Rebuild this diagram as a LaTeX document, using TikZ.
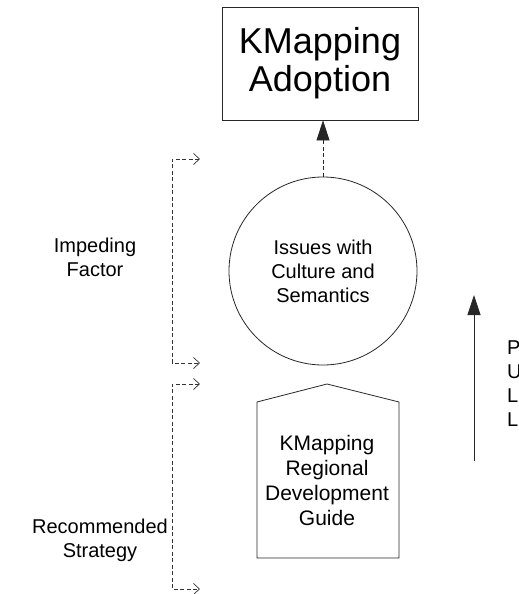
\documentclass[tikz,border=0pt]{standalone}
\usepackage{fontspec}
\setmainfont{Liberation Sans}
\usetikzlibrary{arrows.meta}
\begin{document}
\begin{tikzpicture}[x=1pt,y=-1pt,
  ln/.style={draw=black!85, line width=0.8pt},
  txt/.style={align=center, inner sep=0pt, font=\fontsize{20}{24}\selectfont},
  ptxt/.style={align=center, inner sep=0pt, font=\fontsize{21}{25}\selectfont},
  big/.style={align=center, inner sep=0pt, font=\fontsize{36}{38}\selectfont},
  brk/.style={draw=black!80, line width=0.7pt, dash pattern=on 4pt off 2.5pt,
    {Straight Barb[length=6pt,width=11pt]}-{Straight Barb[length=6pt,width=11pt]}},
  tri/.style={-{Triangle[length=20pt,width=13pt]}},
]
\useasboundingbox (0,0) rectangle (519,594);
% top box
\node[ln, big, minimum width=196pt, minimum height=113pt] (adopt) at (320,63.5) {KMapping\\Adoption};
% circle
\node[ln, circle, txt, minimum size=188pt] (issues) at (323,271) {Issues with\\Culture and\\Semantics};
\draw[ln, dash pattern=on 4pt off 2.5pt, tri] (issues.north) -- (issues.north |- adopt.south);
% pentagon
\coordinate (pl) at (257,402);
\coordinate (pt) at (327,384);
\coordinate (pr) at (399,402);
\coordinate (pbr) at (399,558);
\coordinate (pbl) at (257,558);
\draw[ln] (pl) -- (pt) -- (pr) -- (pbr) -- (pbl) -- cycle;
\node[ptxt] (guide) at (327,480) {KMapping\\Regional\\Development\\Guide};
% brackets
\coordinate (b1a) at (200,159);
\coordinate (b1b) at (200,363);
\coordinate (b2a) at (200,384);
\coordinate (b2b) at (200,589);
\draw[brk] (b1a) -- (172,159) -- (172,363) -- (b1b);
\draw[brk] (b2a) -- (172,384) -- (172,589) -- (b2b);
\node[txt] (imp) at (95,257) {Impeding\\Factor};
\node[txt] (rec) at (100,540) {Recommended\\Strategy};
% pull arrow
\coordinate (pa) at (474,461);
\coordinate (pb) at (474,295);
\draw[ln, tri] (pa) -- (pb);
\node[txt, anchor=base west] (p1) at (507,354) {P};
\node[txt, anchor=base west] (p2) at (507,378) {U};
\node[txt, anchor=base west] (p3) at (507,402) {L};
\node[txt, anchor=base west] (p4) at (507,426) {L};
\end{tikzpicture}
\end{document}
